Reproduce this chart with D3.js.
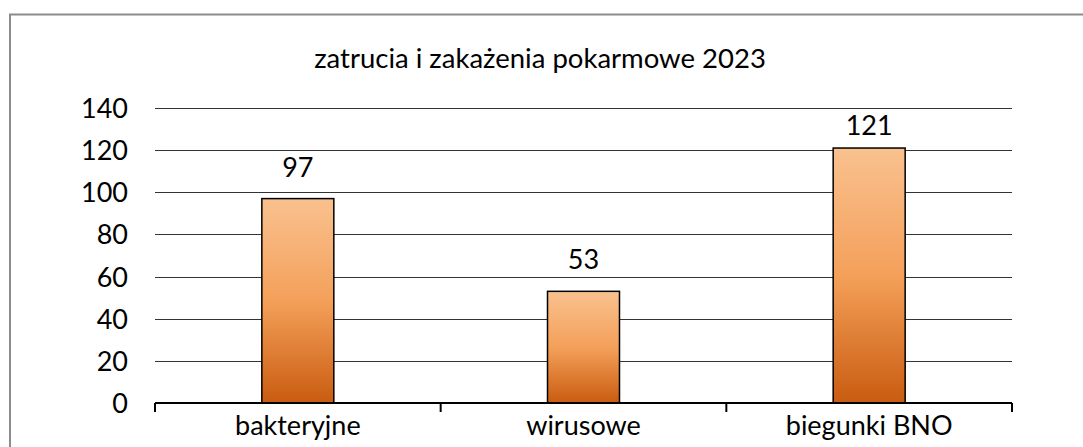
<!DOCTYPE html>
<html>
<head>
  <meta charset="utf-8">
  <title>zatrucia i zakażenia pokarmowe 2023</title>
  <script src="https://d3js.org/d3.v7.min.js"></script>
  <style>
    body { margin: 0; background: #fff; }
    text { font-family: Lato, "Open Sans", sans-serif; fill: #000; }
  </style>
</head>
<body>
  <script>
  // data
  var title = "zatrucia i zakażenia pokarmowe 2023";
  var categories = ["bakteryjne", "wirusowe", "biegunki BNO"];
  var values = [97, 53, 121];
  var yTicks = [0, 20, 40, 60, 80, 100, 120, 140];

  var width = 1083, height = 447;
  var plotLeft = 155, plotRight = 1012, plotTop = 108, plotBottom = 403;
  var fs = 27;

  var svg = d3.select("body").append("svg")
    .attr("width", width).attr("height", height);

  // gradient for bars
  var grad = svg.append("defs").append("linearGradient")
    .attr("id", "barGrad").attr("x1", 0).attr("y1", 0).attr("x2", 0).attr("y2", 1);
  grad.append("stop").attr("offset", "0%").attr("stop-color", "#f9c18f");
  grad.append("stop").attr("offset", "50%").attr("stop-color", "#f4a05a");
  grad.append("stop").attr("offset", "100%").attr("stop-color", "#c95c10");

  // outer frame
  svg.append("rect")
    .attr("x", 10).attr("y", 14.5)
    .attr("width", 1100).attr("height", 500)
    .attr("fill", "none").attr("stroke", "#8c8c8c").attr("stroke-width", 2);

  var x = d3.scaleBand().domain(categories).range([plotLeft, plotRight]).padding(0);
  var y = d3.scaleLinear().domain([0, 140]).range([plotBottom, plotTop]);

  // gridlines
  svg.append("g").selectAll("line")
    .data(yTicks.filter(function(d) { return d > 0; }))
    .enter().append("line")
    .attr("x1", plotLeft).attr("x2", plotRight)
    .attr("y1", function(d) { return Math.round(y(d)) + 0.5; })
    .attr("y2", function(d) { return Math.round(y(d)) + 0.5; })
    .attr("stroke", "#333").attr("stroke-width", 1.2);

  // y labels
  var yAxis = d3.axisLeft(y).tickValues(yTicks).tickSize(0).tickPadding(27);
  var ga = svg.append("g").attr("transform", "translate(" + plotLeft + ",0)").call(yAxis);
  ga.select(".domain").remove();
  ga.selectAll("text").attr("font-size", fs).attr("font-family", null).attr("dy", "0.35em");

  // bars
  var bw = x.bandwidth() * 0.252;
  svg.append("g").selectAll("rect")
    .data(values)
    .enter().append("rect")
    .attr("x", function(d, i) { return x(categories[i]) + x.bandwidth() / 2 - bw / 2; })
    .attr("y", function(d) { return y(d); })
    .attr("width", bw)
    .attr("height", function(d) { return y(0) - y(d); })
    .attr("fill", "url(#barGrad)")
    .attr("stroke", "#000").attr("stroke-width", 1.5);

  // value labels
  svg.append("g").selectAll("text")
    .data(values)
    .enter().append("text")
    .attr("x", function(d, i) { return x(categories[i]) + x.bandwidth() / 2; })
    .attr("y", function(d) { return Math.max(y(d) - 22, y(140) + 27); })
    .attr("text-anchor", "middle")
    .attr("font-size", fs)
    .text(function(d) { return d; });

  // x axis
  var xAxis = d3.axisBottom(x).tickSize(0).tickPadding(0);
  var gx = svg.append("g").attr("transform", "translate(0," + plotBottom + ")").call(xAxis);
  gx.select(".domain").remove();
  gx.selectAll("text").attr("font-size", fs).attr("font-family", null).attr("dy", null).attr("y", 32);
  gx.append("line").attr("x1", plotLeft).attr("x2", plotRight).attr("y1", 0).attr("y2", 0)
    .attr("stroke", "#000").attr("stroke-width", 2);
  var bounds = categories.map(function(c) { return x(c); }).concat([plotRight]);
  gx.selectAll(".bound").data(bounds).enter().append("line")
    .attr("class", "bound")
    .attr("x1", function(d) { return d; }).attr("x2", function(d) { return d; })
    .attr("y1", 0).attr("y2", 9)
    .attr("stroke", "#000").attr("stroke-width", 2);

  // title
  svg.append("text")
    .attr("x", 540).attr("y", 68)
    .attr("text-anchor", "middle")
    .attr("font-size", fs + 0.5)
    .text(title);
  </script>
</body>
</html>
